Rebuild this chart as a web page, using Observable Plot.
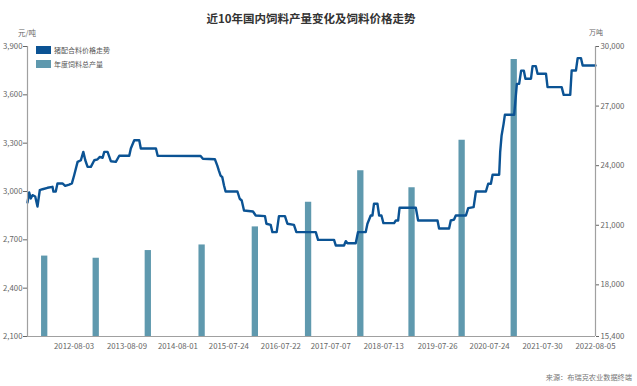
<!DOCTYPE html>
<html><head><meta charset="utf-8">
<script src="https://cdn.jsdelivr.net/npm/d3@7"></script>
<script src="https://cdn.jsdelivr.net/npm/@observablehq/plot@0.6"></script>
<style>
body{margin:0;background:#fff;font-family:"Noto Sans CJK SC","Noto Sans",sans-serif;}
#wrap{position:relative;width:637px;height:386px;overflow:hidden;}
#wrap svg{position:absolute;left:0;top:0;}
.t{position:absolute;white-space:nowrap;line-height:1;}
.sw{position:absolute;width:15px;height:8px;}
</style></head><body><div id="wrap"></div>
<script>
// 猪配合料价格 (元/吨), weekly, key change points
const priceDates = ["2011-09-12","2011-09-24","2011-10-05","2011-10-17","2011-11-05","2011-11-21","2011-12-07","2011-12-26","2012-01-30","2012-03-05","2012-03-12","2012-03-28","2012-04-09","2012-05-14","2012-06-02","2012-06-30","2012-07-19","2012-08-04","2012-08-28","2012-09-20","2012-10-07","2012-10-21","2012-11-06","2012-11-29","2012-12-23","2013-01-15","2013-01-31","2013-02-19","2013-03-03","2013-03-26","2013-04-18","2013-05-23","2013-06-16","2013-08-25","2013-09-05","2013-09-29","2013-11-03","2013-11-14","2014-02-28","2014-03-12","2015-01-07","2015-01-23","2015-04-17","2015-05-04","2015-05-15","2015-05-27","2015-06-08","2015-06-20","2015-07-01","2015-09-22","2015-10-08","2015-10-22","2015-11-07","2016-01-09","2016-01-28","2016-04-02","2016-04-12","2016-05-12","2016-05-24","2016-06-23","2016-07-09","2016-08-20","2016-09-06","2016-10-22","2016-11-08","2017-03-24","2017-04-09","2017-07-30","2017-08-11","2017-10-08","2017-10-20","2017-11-01","2017-12-29","2018-01-14","2018-03-09","2018-03-21","2018-04-13","2018-04-25","2018-05-06","2018-05-30","2018-06-11","2018-06-27","2018-07-11","2018-09-24","2018-10-06","2018-10-22","2018-11-01","2019-02-23","2019-03-11","2019-07-25","2019-08-05","2019-10-14","2019-10-26","2019-11-18","2019-11-30","2020-02-09","2020-02-25","2020-04-03","2020-04-19","2020-06-28","2020-07-14","2020-08-02","2020-08-14","2020-09-29","2020-10-06","2020-10-16","2020-10-30","2020-11-08","2021-01-12","2021-01-31","2021-02-16","2021-03-02","2021-03-21","2021-04-01","2021-05-10","2021-05-21","2021-06-13","2021-06-25","2021-08-23","2021-09-03","2021-12-11","2021-12-25","2022-02-09","2022-02-19","2022-03-21","2022-04-02","2022-04-25","2022-05-07","2022-08-05"];
const priceValues = [2932,2994,2957,2977,2969,2907,3008,3014,3023,3029,2999,3000,3050,3050,3035,3043,3050,3101,3184,3194,3246,3194,3153,3153,3194,3200,3215,3209,3246,3246,3188,3184,3222,3222,3267,3318,3318,3267,3267,3222,3220,3203,3200,3161,3130,3099,3089,3037,3000,3000,2955,2944,2882,2876,2851,2847,2800,2793,2748,2748,2847,2847,2800,2793,2748,2748,2700,2700,2665,2665,2692,2679,2679,2748,2748,2800,2851,2851,2924,2924,2851,2851,2804,2804,2820,2820,2899,2899,2820,2820,2770,2770,2820,2826,2851,2851,2897,2903,3000,3000,3048,3048,3104,3104,3244,3348,3420,3476,3476,3668,3668,3750,3750,3700,3700,3778,3778,3731,3731,3648,3648,3600,3600,3751,3751,3828,3828,3782,3782];

// 年度饲料总产量 (万吨)
const barYears = [2012,2013,2014,2015,2016,2017,2018,2019,2020,2021];
const barDates = ["2012-01-07","2013-01-02","2014-01-02","2015-01-14","2016-01-22","2017-01-29","2018-01-30","2019-01-24","2020-01-10","2021-01-09"];
const barOutput = [19449,19340,19727,20009,20918,22161,23740,22885,25276,29344];

// axis ticks
const xTickLabels = ["2012-08-03","2013-08-09","2014-08-01","2015-07-24","2016-07-22","2017-07-07","2018-07-13","2019-07-26","2020-07-24","2021-07-30","2022-08-05"];
const leftTicks = [2100,2400,2700,3000,3300,3600,3900];
const rightTicks = [15400,18000,21000,24000,27000,30000];

const parse = d3.utcParse("%Y-%m-%d");
const L0 = leftTicks[0], L1 = leftTicks[leftTicks.length-1];
const R0 = rightTicks[0], R1 = rightTicks[rightTicks.length-1];
const toLeft = v => L0 + (v - R0) * (L1 - L0) / (R1 - R0);
const fromLeft = v => R0 + (v - L0) * (R1 - R0) / (L1 - L0);

const price = priceDates.map((d,i) => ({date: parse(d), price: priceValues[i]}));
const bars = barDates.map((d,i) => ({year: barYears[i], date: parse(d), output: barOutput[i]}));
const x0 = price[0].date, x1 = price[price.length-1].date;

const lineColor = "#0b5394";
const barColor = "#5f99ae";
const axisColor = "#a0a0a0";

const chart = Plot.plot({
  width: 637, height: 386,
  marginLeft: 27, marginRight: 42, marginTop: 46, marginBottom: 50,
  style: {fontFamily: '"Noto Sans CJK SC","Noto Sans",sans-serif', fontSize: "7.8px", color: "#666", background: "transparent"},
  x: {type: "utc", domain: [x0, x1]},
  y: {domain: [L0, L1]},
  marks: [
    Plot.ruleX(bars, {x: "date", y1: L0, y2: d => toLeft(d.output), stroke: barColor, strokeWidth: 6.3}),
    Plot.line(price, {x: "date", y: "price", stroke: lineColor, strokeWidth: 2.4, strokeLinejoin: "round"}),
    Plot.ruleY([L0], {stroke: axisColor}),
    Plot.ruleX([x0], {stroke: axisColor, strokeWidth: 1.2}),
    Plot.ruleX([x1], {stroke: axisColor, strokeWidth: 1.2}),
    Plot.axisY(leftTicks, {anchor: "left", tickSize: 4, tickPadding: 1, tickFormat: d3.format(","), label: null}),
    Plot.axisY(rightTicks.map(toLeft), {anchor: "right", tickSize: 3, tickPadding: 2, tickFormat: d => d3.format(",")(Math.round(fromLeft(d))), label: null}),
    Plot.axisX(xTickLabels.map(parse), {tickSize: 0, tickPadding: 7, tickFormat: d3.utcFormat("%Y-%m-%d"), label: null})
  ]
});

const wrap = document.getElementById("wrap");
wrap.appendChild(chart);
function addText(txt, css){ const e=document.createElement("div"); e.className="t"; e.textContent=txt; Object.assign(e.style, css); wrap.appendChild(e); return e; }
function addSw(color, css){ const e=document.createElement("div"); e.className="sw"; e.style.background=color; Object.assign(e.style, css); wrap.appendChild(e); }

addText("近10年国内饲料产量变化及饲料价格走势", {left:"0px", width:"622px", textAlign:"center", top:"13px", fontSize:"11.5px", fontWeight:"bold", color:"#333"});
addText("元/吨", {left:"18px", top:"29px", fontSize:"7.5px", color:"#666"});
addText("万吨", {left:"589px", top:"29px", fontSize:"7px", color:"#666"});
addSw(lineColor, {left:"36px", top:"46px"});
addText("猪配合料价格走势", {left:"54px", top:"46.5px", fontSize:"7px", color:"#555"});
addSw(barColor, {left:"36px", top:"60px"});
addText("年度饲料总产量", {left:"54px", top:"60.5px", fontSize:"7px", color:"#555"});
addText("来源：布瑞克农业数据终端", {right:"5px", top:"373.5px", fontSize:"7.2px", color:"#777"});
</script></body></html>
